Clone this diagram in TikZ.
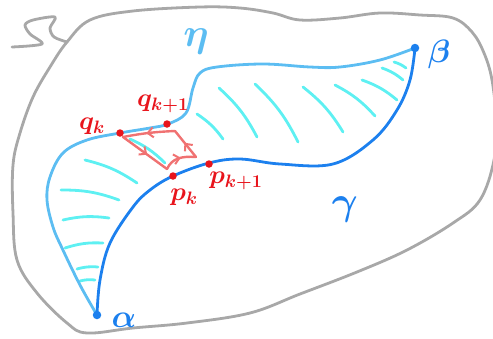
\documentclass[tikz,border=0pt]{standalone}
\usetikzlibrary{arrows.meta,decorations.markings}
\definecolor{rimgray}{HTML}{A8A8A8}
\definecolor{etablue}{HTML}{5CBDF2}
\definecolor{gamblue}{HTML}{1C80EE}
\definecolor{hatchcyan}{HTML}{5EF0F2}
\definecolor{ptred}{HTML}{E8141C}
\definecolor{looppink}{HTML}{F07272}
\tikzset{
  pen/.style={line width=2.8pt, line cap=round, line join=round},
  hatchline/.style={pen, hatchcyan},
  dot/.style={circle, fill=ptred, inner sep=0pt, minimum size=7.5pt},
  enddot/.style={circle, fill=gamblue, inner sep=0pt, minimum size=8.5pt},
  ptlabel/.style={text=ptred, font=\huge\boldmath, scale=1.25, transform shape},
  curvelabel/.style={font=\Huge\boldmath, scale=1.3, transform shape},
  biglabel/.style={font=\Huge\boldmath, scale=1.6, transform shape},
  midarrow/.style={postaction={decorate}, decoration={markings,
      mark=at position 0.55 with {\arrow{Straight Barb[length=5.5pt,width=10pt,line width=2pt]}}}},
}
\begin{document}
\begin{tikzpicture}[x=1pt,y=-1pt]
  \useasboundingbox (0,0) rectangle (493,338);
  % outer region and its tag
  \draw[pen, rimgray] plot[smooth cycle, tension=0.6] coordinates {(67,42) (90,20) (133,11) (200,7) (240,8) (273,13) (300,20) (340,18) (380,13) (420,15) (453,18) (472,32) (484,53) (492,80) (496,120) (494,160) (480,200) (453,223) (407,250) (357,272) (300,294) (250,313) (187,323) (133,328) (87,333) (67,323) (37,293) (17,260) (13,213) (13,165) (20,133) (33,97) (50,67)};
  \draw[pen, rimgray] plot[smooth, tension=0.5] coordinates {(12,47) (42,44) (30,34) (25,25) (33,20) (55,17) (50,28) (54,37) (67,42)};
  % end points
  \coordinate (a) at (97,315);
  \coordinate (b) at (415,48);
  % hatching between the curves
  \foreach \x/\y/\u/\v in {394/62/406/68, 382/68/403/80, 362/80/397/100, 335/85/375/116,
      303/87/343/132, 255/84/298/142, 219/88/257/137, 197/114/223/139, 130/139/165/163,
      85/160/137/183, 61/190/119/200, 63/220/109/218, 65/248/103/243, 77/269/98/267, 80/281/95/280}
    \draw[hatchline] (\x,\y) to[bend left=10] (\u,\v);
  % eta
  \draw[pen, etablue] plot[smooth, tension=0.6] coordinates {(a) (80,285) (62,248) (53,227) (47,200) (50,177) (63,153) (87,140) (120,133) (150,128) (168,124) (186,113) (193,88) (200,73) (217,67) (263,64) (310,67) (340,67) (380,60) (b)};
  % gamma
  \draw[pen, gamblue] plot[smooth, tension=0.6] coordinates {(a) (100,280) (110,243) (133,207) (150,190) (173,176) (209,163) (240,159) (280,164) (333,164) (373,140) (397,110) (410,80) (b)};
  % little loop
  \coordinate (l) at (123,137);
  \coordinate (lo) at (167,169);
  \coordinate (r) at (196,157);
  \coordinate (t) at (175,131);
  \begin{scope}[pen, looppink, line width=2.4pt]
    \draw[midarrow] (l) -- (lo);
    \draw[midarrow] (lo) .. controls (172,158) and (182,156) .. (r);
    \draw[midarrow] (r) -- (t);
    \draw[midarrow] (t) to[bend right=4] (l);
  \end{scope}
  % points and labels
  \node[enddot] (alpha) at (a) {};
  \node[enddot] (beta) at (b) {};
  \node[dot] (qk) at (120,133) {};
  \node[dot] (qk1) at (167,124) {};
  \node[dot] (pk) at (173,176) {};
  \node[dot] (pk1) at (209,164) {};
  \node[ptlabel] (qklbl) at (92,126) {$q_k$};
  \node[ptlabel] (qk1lbl) at (163,104) {$q_{k+1}$};
  \node[ptlabel] (pklbl) at (184,197) {$p_k$};
  \node[ptlabel] (pk1lbl) at (236,181) {$p_{k+1}$};
  \node[curvelabel, text=gamblue] (alphalbl) at (124,320) {$\alpha$};
  \node[curvelabel, text=gamblue] (betalbl) at (439,54) {$\beta$};
  \node[biglabel, text=gamblue] (gamlbl) at (345,210) {$\gamma$};
  \node[biglabel, text=etablue] (etalbl) at (196,42) {$\eta$};
\end{tikzpicture}
\end{document}
